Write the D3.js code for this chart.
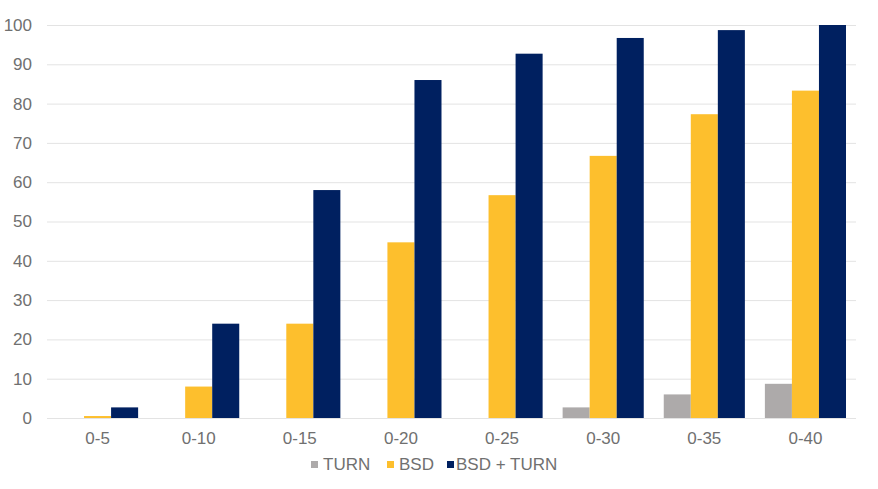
<!DOCTYPE html>
<html><head><meta charset="utf-8">
<script src="https://cdn.jsdelivr.net/npm/d3@7"></script>
<style>body{margin:0;background:#fff;font-family:"Liberation Sans",Arial,sans-serif;}</style>
</head><body><svg id="c" width="878" height="489"></svg>
<script>
const categories = ["0-5","0-10","0-15","0-20","0-25","0-30","0-35","0-40"];
const seriesNames = ["TURN","BSD","BSD + TURN"];
const turn = [0,0,0,0,0,2.7,6,8.7];
const bsd = [0.5,8,24,44.7,56.7,66.7,77.3,83.3];
const bsdTurn = [2.7,24,58,86,92.7,96.7,98.7,100];
const yTicks = [0,10,20,30,40,50,60,70,80,90,100];
const colors = ["#ADAAAA","#FDBF2D","#002060"];

const seriesData = [turn,bsd,bsdTurn];
const svg = d3.select("#c");
const m = {l:47,r:22,t:25,b:71};
const W = 878, H = 489;
const txtColor = "#707070";
const fontSize = "17px";
const x0 = d3.scaleBand().domain(categories).range([m.l, W-m.r]);
const xs = d3.scaleBand().domain(seriesNames).range([0, x0.bandwidth()]).paddingInner(0).paddingOuter(0.37);
const y = d3.scaleLinear().domain([0,100]).range([H-m.b, m.t]);

// gridlines
svg.append("g").selectAll("line").data(yTicks).join("line")
  .attr("x1", m.l).attr("x2", W-m.r)
  .attr("y1", d=>y(d)+0.5).attr("y2", d=>y(d)+0.5)
  .attr("stroke", "#E3E3E3").attr("stroke-width",1);

// y axis
const ya = svg.append("g").attr("transform",`translate(${m.l-15},0)`)
  .call(d3.axisLeft(y).tickValues(yTicks).tickSize(0).tickPadding(0));
ya.select(".domain").remove();
ya.selectAll("text").attr("fill",txtColor).style("font-size",fontSize).style("font-family","'Liberation Sans',Arial,sans-serif");

// x axis
const xa = svg.append("g").attr("transform",`translate(0,${H-m.b})`)
  .call(d3.axisBottom(x0).tickSize(0).tickPadding(14));
xa.select(".domain").remove();
xa.selectAll("text").attr("fill",txtColor).style("font-size",fontSize).style("font-family","'Liberation Sans',Arial,sans-serif");

// bars
const g = svg.append("g");
categories.forEach((c,i)=>{
  seriesNames.forEach((s,j)=>{
    const v = seriesData[j][i];
    if (v<=0) return;
    g.append("rect")
      .attr("x", x0(c)+xs(s))
      .attr("width", xs.bandwidth())
      .attr("y", y(v))
      .attr("height", y(0)-y(v))
      .attr("fill", colors[j]);
  });
});

// legend
const legMarkX = [311, 387, 447];
const legTextX = [323, 399, 456];
const leg = svg.append("g").attr("transform","translate(0,464)");
seriesNames.forEach((s,j)=>{
  leg.append("rect").attr("x",legMarkX[j]).attr("y",-3).attr("width",7).attr("height",7).attr("fill",colors[j]);
  leg.append("text").attr("x",legTextX[j]).attr("y",0).attr("dy","0.35em").text(s)
    .attr("fill",txtColor).style("font-size",fontSize);
});
</script></body></html>
